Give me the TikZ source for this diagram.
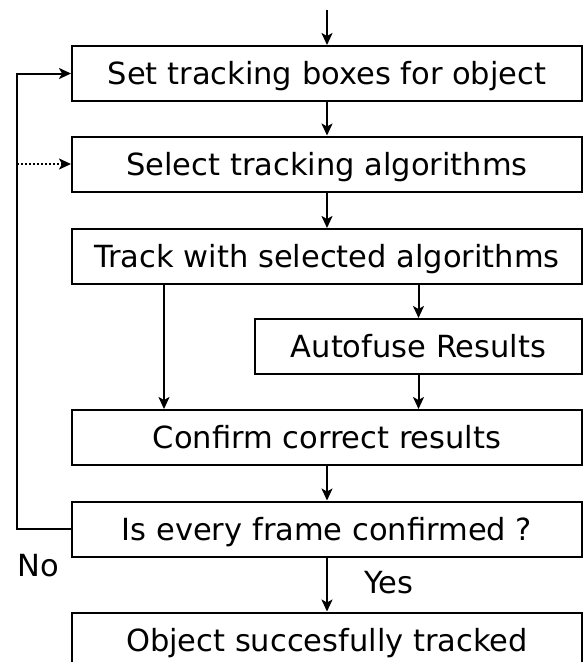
\documentclass[tikz,border=0pt]{standalone}
\usepackage{fontspec}
\setmainfont{DejaVu Sans}
\usetikzlibrary{arrows.meta}
\begin{document}
\begin{tikzpicture}[x=1pt,y=-1pt,
  box/.style={draw,line width=2pt,inner sep=0pt,minimum height=55pt,text height=22pt,text depth=0pt,font=\fontsize{30.5}{34}\selectfont},
  wide/.style={box,minimum width=510pt},
  arr/.style={line width=2pt,-{Stealth[length=12pt,width=11pt,inset=3pt]}},
  lbl/.style={font=\fontsize{30.5}{34}\selectfont,inner sep=0pt}]
\useasboundingbox (0,0) rectangle (583,662);
\clip (0,0) rectangle (583,662);
\node[wide] (b1) at (327,73.5) {Set tracking boxes for object};
\node[wide] (b2) at (327,164) {Select tracking algorithms};
\node[wide] (b3) at (327,256.5) {Track with selected algorithms};
\node[box,minimum width=327pt] (af) at (418.5,346.5) {Autofuse Results};
\node[wide] (b4) at (327,437.5) {Confirm correct results};
\node[wide] (b5) at (327,529) {Is every frame confirmed ?};
\node[wide] (b6) at (327,640) {Object succesfully tracked};
\coordinate (top) at (327,10);
\coordinate (fbl) at (17,529);
\coordinate (fbt) at (17,73.5);
\coordinate (dot) at (17,164);
\draw[arr] (top) -- (b1.north);
\draw[arr] (b1) -- (b2);
\draw[arr] (b2) -- (b3);
\draw[arr] (b3.south -| 164,0) -- (b4.north -| 164,0);
\draw[arr] (b3.south -| af.north) -- (af.north);
\draw[arr] (af) -- (b4.north -| af.south);
\draw[arr] (b4) -- (b5);
\draw[arr] (b5) -- (b6);
\draw[arr] (b5.west) -- (fbl) -- (fbt) -- (b1.west);
\draw[arr,dotted] (dot) -- (b2.west);
\node[lbl] (no) at (38,566) {No};
\node[lbl] (yes) at (389,583) {Yes};
\end{tikzpicture}
\end{document}
